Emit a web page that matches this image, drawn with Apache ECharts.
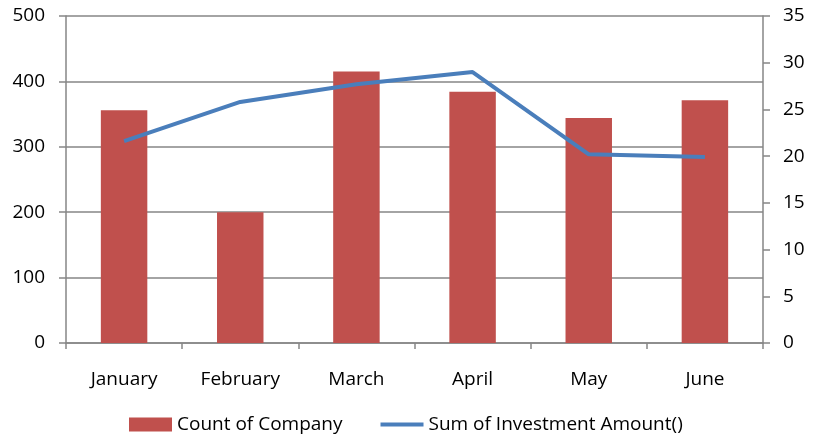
<!DOCTYPE html>
<html>
<head>
<meta charset="utf-8">
<script src="https://cdn.jsdelivr.net/npm/echarts@6/dist/echarts.min.js"></script>
<style>
html, body { margin: 0; padding: 0; background: #fff; }
#chart { width: 823px; height: 436px; }
</style>
</head>
<body>
<div id="chart"></div>
<script>
var months = ['January', 'February', 'March', 'April', 'May', 'June'];
var companyCount = [356, 200, 415, 384, 344, 371];
var investmentSum = [21.6, 25.8, 27.7, 29.0, 20.2, 19.9];

var gridColor = '#868686';
var font = 'Open Sans';

var myChart = echarts.init(document.getElementById('chart'));

var option = {
    backgroundColor: '#fff',
    animation: false,
    textStyle: { fontFamily: font },
    grid: { left: 66, right: 60, top: 16, bottom: 93, containLabel: false },
    legend: {
        top: 415,
        left: 129,
        padding: 0,
        itemWidth: 43,
        itemHeight: 14,
        itemGap: 38,
        textStyle: { fontSize: 19, color: '#000', fontFamily: font },
        data: [
            { name: 'Count of Company', icon: 'rect' },
            { name: 'Sum of Investment Amount()', icon: 'path://M0,0L45,0L45,4L0,4Z' }
        ]
    },
    xAxis: {
        type: 'category',
        data: months,
        axisLine: { lineStyle: { color: gridColor, width: 1.5 } },
        axisTick: { show: true, length: 6, lineStyle: { color: gridColor, width: 1.5 } },
        axisLabel: { color: '#000', fontSize: 19, margin: 27 }
    },
    yAxis: [
        {
            type: 'value',
            min: 0, max: 500, interval: 100,
            axisLine: { show: true, lineStyle: { color: gridColor, width: 1.5 } },
            axisTick: { show: true, length: 7, lineStyle: { color: gridColor, width: 1.5 } },
            splitLine: { lineStyle: { color: gridColor, width: 1.5 } },
            axisLabel: { color: '#000', fontSize: 19, margin: 21 }
        },
        {
            type: 'value',
            min: 0, max: 35, interval: 5,
            axisLine: { show: true, lineStyle: { color: gridColor, width: 1.5 } },
            axisTick: { show: true, length: 7, lineStyle: { color: gridColor, width: 1.5 } },
            splitLine: { show: false },
            axisLabel: { color: '#000', fontSize: 19, margin: 20 }
        }
    ],
    series: [
        {
            name: 'Count of Company',
            type: 'bar',
            data: companyCount,
            barWidth: '40%',
            itemStyle: { color: '#C0504D' }
        },
        {
            name: 'Sum of Investment Amount()',
            type: 'line',
            yAxisIndex: 1,
            data: investmentSum,
            symbol: 'none',
            lineStyle: { color: '#4A7EBB', width: 4 },
            itemStyle: { color: '#4A7EBB' }
        }
    ]
};

myChart.setOption(option);
</script>
</body>
</html>
